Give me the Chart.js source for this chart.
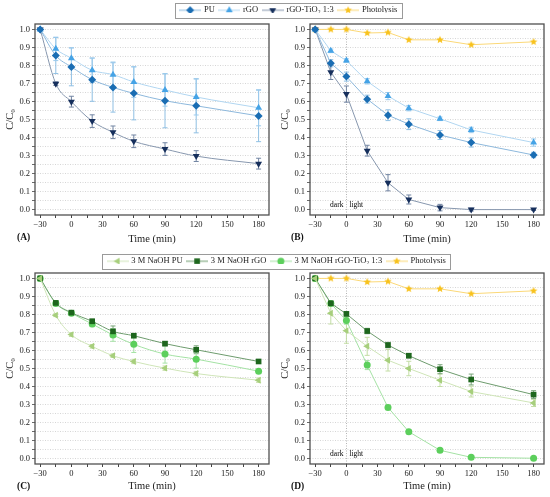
<!DOCTYPE html>
<html>
<head>
<meta charset="utf-8">
<script src="https://cdn.jsdelivr.net/npm/chart.js@4.4.1/dist/chart.umd.min.js"></script>
<style>
  body { margin: 0; background: #fff; width: 550px; height: 497px; position: relative; overflow: hidden; font-family: "Liberation Serif", serif; }
  canvas { position: absolute; }
  .lab { position: absolute; font-weight: bold; font-size: 9.5px; color: #111; }
</style>
</head>
<body>
<canvas id="chartA" width="275" height="250" style="left:0;top:0"></canvas>
<canvas id="chartB" width="275" height="250" style="left:275px;top:0"></canvas>
<canvas id="chartC" width="275" height="247" style="left:0;top:250px"></canvas>
<canvas id="chartD" width="275" height="247" style="left:275px;top:250px"></canvas>
<canvas id="legTop" width="420" height="24" style="left:79px;top:1px"></canvas>
<canvas id="legBottom" width="420" height="24" style="left:67px;top:252px"></canvas>
<div class="lab" style="left:17px;top:232px">(A)</div>
<div class="lab" style="left:291px;top:232px">(B)</div>
<div class="lab" style="left:17px;top:481px">(C)</div>
<div class="lab" style="left:291px;top:481px">(D)</div>
<script>
// sampling times (min)
const times = [-30, -15, 0, 20, 40, 60, 90, 120, 180];

const xTicks = [-30, -15, 0, 15, 30, 45, 60, 75, 90, 105, 120, 135, 150, 165, 180];
const xTickLabels = ['−30', '', '0', '', '30', '', '60', '', '90', '', '120', '', '150', '', '180'];
const yTicks = [0, 0.05, 0.1, 0.15, 0.2, 0.25, 0.3, 0.35, 0.4, 0.45, 0.5, 0.55, 0.6, 0.65, 0.7, 0.75, 0.8, 0.85, 0.9, 0.95, 1.0];
const yTickLabels = ['0.0', '', '0.1', '', '0.2', '', '0.3', '', '0.4', '', '0.5', '', '0.6', '', '0.7', '', '0.8', '', '0.9', '', '1.0'];

// (A)
const puA      = [1.0, 0.855, 0.792, 0.721, 0.678, 0.645, 0.604, 0.576, 0.520];
const puAErr   = [0, 0.10, 0.105, 0.12, 0.137, 0.147, 0.15, 0.15, 0.143];
const rgoA     = [1.0, 0.892, 0.840, 0.773, 0.749, 0.708, 0.664, 0.625, 0.565];
const rgoAErr  = [0, 0.065, 0.058, 0.068, 0.07, 0.085, 0.09, 0.10, 0.10];
const tioA     = [1.0, 0.699, 0.599, 0.491, 0.429, 0.379, 0.336, 0.297, 0.255];
const tioAErr  = [0, 0.01, 0.03, 0.035, 0.035, 0.035, 0.035, 0.03, 0.03];

// (B)
const photB    = [1.0, 1.0, 1.0, 0.980, 0.983, 0.942, 0.942, 0.915, 0.931];
const puB      = [1.0, 0.812, 0.738, 0.613, 0.524, 0.474, 0.414, 0.372, 0.303];
const puBErr   = [0, 0.02, 0.025, 0.022, 0.03, 0.03, 0.025, 0.025, 0.015];
const rgoB     = [1.0, 0.881, 0.827, 0.712, 0.630, 0.563, 0.504, 0.442, 0.372];
const rgoBErr  = [0, 0.01, 0.01, 0.015, 0.02, 0.015, 0.01, 0.015, 0.02];
const tioB     = [1.0, 0.762, 0.641, 0.327, 0.149, 0.056, 0.011, 0.0, 0.0];
const tioBErr  = [0, 0.04, 0.045, 0.03, 0.045, 0.025, 0.018, 0.008, 0.005];

// (C)
const naPuC     = [1.0, 0.796, 0.688, 0.623, 0.571, 0.539, 0.502, 0.472, 0.435];
const naPuCErr  = [0, 0.008, 0.01, 0.01, 0.01, 0.012, 0.012, 0.012, 0.012];
const naRgoC    = [1.0, 0.864, 0.810, 0.762, 0.706, 0.682, 0.638, 0.604, 0.539];
const naRgoCErr = [0, 0.01, 0.01, 0.012, 0.03, 0.01, 0.012, 0.022, 0.01];
const naTioC    = [1.0, 0.861, 0.807, 0.747, 0.686, 0.634, 0.580, 0.552, 0.485];
const naTioCErr = [0, 0.01, 0.01, 0.015, 0.035, 0.045, 0.05, 0.05, 0.012];

// (D)
const photD     = [1.0, 1.0, 1.0, 0.980, 0.983, 0.942, 0.942, 0.915, 0.931];
const naPuD     = [1.0, 0.807, 0.710, 0.623, 0.546, 0.500, 0.435, 0.372, 0.309];
const naPuDErr  = [0, 0.06, 0.07, 0.05, 0.06, 0.04, 0.035, 0.03, 0.02];
const naRgoD    = [1.0, 0.862, 0.803, 0.708, 0.630, 0.571, 0.496, 0.439, 0.355];
const naRgoDErr = [0, 0.01, 0.012, 0.015, 0.015, 0.012, 0.025, 0.03, 0.022];
const naTioD    = [1.0, 0.861, 0.766, 0.519, 0.284, 0.149, 0.046, 0.007, 0.002];
const naTioDErr = [0, 0.01, 0.02, 0.025, 0.012, 0.01, 0.008, 0.006, 0.004];

const FONT = '"Liberation Serif", serif';
Chart.defaults.font.family = FONT;
Chart.defaults.color = '#222';

function starImage(color, r) {
  const s = Math.ceil(r * 2 + 2);
  const c = document.createElement('canvas');
  c.width = s; c.height = s;
  const g = c.getContext('2d');
  g.fillStyle = color;
  g.beginPath();
  for (let k = 0; k < 10; k++) {
    const rr = k % 2 ? r * 0.45 : r;
    const a = -Math.PI / 2 + k * Math.PI / 5;
    g.lineTo(s / 2 + rr * Math.cos(a), s / 2 + rr * Math.sin(a));
  }
  g.closePath();
  g.fill();
  return c;
}

const ST = {
  pu:    { fill: '#1a6db3', line: '#8db8dc', err: '#8fbfe3', point: 'rectRot', r: 4 },
  rgo:   { fill: '#45a3e6', line: '#b1d6f1', err: '#9ccbed', point: 'triangle', r: 4 },
  tio:   { fill: '#162f5c', line: '#8797ae', err: '#7184a2', point: 'triangle', rot: 180, r: 4 },
  phot:  { fill: '#f8c21c', line: '#fbd877', err: '#f8c21c', point: starImage('#f8c21c', 4), r: 4 },
  naPu:  { fill: '#a7cf7c', line: '#cfe5b8', err: '#c3dda5', point: 'triangle', rot: -90, r: 4 },
  naRgo: { fill: '#1d661d', line: '#6e9c6e', err: '#7aa57a', point: 'rect', r: 4 },
  naTio: { fill: '#5ccf5c', line: '#a4e2a4', err: '#a4e2a4', point: 'circle', r: 3.5 }
};

function drawMarker(g, st, x, y) {
  if (st.point instanceof HTMLCanvasElement) {
    g.drawImage(st.point, x - st.point.width / 2, y - st.point.height / 2);
    return;
  }
  g.fillStyle = st.fill;
  if (Chart.helpers && Chart.helpers.drawPoint) {
    Chart.helpers.drawPoint(g, { pointStyle: st.point, rotation: st.rot || 0, radius: st.r, borderWidth: 0 }, x, y);
  } else {
    g.beginPath(); g.arc(x, y, st.r, 0, Math.PI * 2); g.fill();
  }
}

function sample(st) {
  const c = document.createElement('canvas');
  c.width = 22; c.height = 12;
  const g = c.getContext('2d');
  g.strokeStyle = st.line; g.lineWidth = 1;
  g.beginPath(); g.moveTo(0, 6); g.lineTo(22, 6); g.stroke();
  drawMarker(g, st, 11, 6);
  return c;
}

function ds(label, data, err, st, smooth) {
  return {
    label: label,
    data: times.map((t, i) => ({ x: t, y: data[i] })),
    errors: err, errColor: st.err,
    borderColor: st.line, backgroundColor: st.fill,
    pointBackgroundColor: st.fill, pointBorderColor: st.fill, pointBorderWidth: 0,
    pointStyle: st.point, pointRotation: st.rot || 0, pointRadius: st.r,
    borderWidth: 1,
    cubicInterpolationMode: smooth ? 'monotone' : 'default',
    tension: 0
  };
}

const errorBars = {
  id: 'errorBars',
  beforeDatasetsDraw(chart) {
    const g = chart.ctx, ys = chart.scales.y;
    chart.data.datasets.forEach((d, di) => {
      if (!d.errors) return;
      const meta = chart.getDatasetMeta(di);
      g.save();
      g.strokeStyle = d.errColor; g.lineWidth = 1;
      meta.data.forEach((pt, i) => {
        const e = d.errors[i];
        if (!e) return;
        const v = d.data[i].y;
        const yt = ys.getPixelForValue(v + e), yb = ys.getPixelForValue(v - e);
        g.beginPath();
        g.moveTo(pt.x, yt); g.lineTo(pt.x, yb);
        g.moveTo(pt.x - 2.5, yt); g.lineTo(pt.x + 2.5, yt);
        g.moveTo(pt.x - 2.5, yb); g.lineTo(pt.x + 2.5, yb);
        g.stroke();
      });
      g.restore();
    });
  }
};

const frame = {
  id: 'frame',
  afterDraw(chart) {
    const a = chart.chartArea, g = chart.ctx;
    g.save();
    g.strokeStyle = '#505050'; g.lineWidth = 1.3;
    g.strokeRect(a.left, a.top, a.right - a.left, a.bottom - a.top);
    g.restore();
  }
};

const darkLight = {
  id: 'darkLight',
  afterDatasetsDraw(chart, args, opts) {
    if (!opts.show) return;
    const g = chart.ctx;
    const x0 = chart.scales.x.getPixelForValue(0), y = chart.scales.y.getPixelForValue(0.025);
    g.save();
    g.font = '7.5px ' + FONT; g.fillStyle = '#000'; g.textBaseline = 'middle';
    g.textAlign = 'right'; g.fillText('dark', x0 - 3, y);
    g.textAlign = 'left'; g.fillText('light', x0 + 3, y);
    g.restore();
  }
};

function panel(id, datasets, vline, xHeight, padTop) {
  new Chart(document.getElementById(id), {
    type: 'line',
    data: { datasets: datasets },
    options: {
      responsive: false, animation: false, events: [],
      layout: { padding: { top: padTop, right: 6, left: 0, bottom: 0 } },
      scales: {
        x: {
          type: 'linear', min: -35, max: 190,
          afterBuildTicks: s => { s.ticks = xTicks.map(v => ({ value: v })); },
          afterFit: s => { s.height = xHeight; },
          ticks: { autoSkip: false, maxRotation: 0, padding: 2, color: '#222', font: { size: 8.5 },
                   callback: (v, i) => xTickLabels[i] },
          grid: { drawOnChartArea: vline, color: c => (c.tick && c.tick.value === 0) ? '#b5b5b5' : 'rgba(0,0,0,0)',
                  tickColor: '#444', tickLength: 3, lineWidth: 1 },
          border: { display: false, dash: [1, 1.5] },
          title: { display: true, text: 'Time (min)', color: '#222', font: { size: 10.5 }, padding: { top: 1, bottom: 4 } }
        },
        y: {
          min: -0.03, max: 1.03,
          afterBuildTicks: s => { s.ticks = yTicks.map(v => ({ value: v })); },
          afterFit: s => { s.width = 35; },
          ticks: { autoSkip: false, padding: 2, color: '#222', font: { size: 8.5 },
                   callback: (v, i) => yTickLabels[i] },
          grid: { color: '#cccccc', tickColor: '#444', tickLength: 3, lineWidth: 0.8 },
          border: { display: false, dash: [1, 1.5] },
          title: { display: true, text: 'C/C₀', color: '#222', font: { size: 10.5 }, padding: { top: 4, bottom: 0 } }
        }
      },
      plugins: { legend: { display: false }, tooltip: { enabled: false }, darkLight: { show: vline } }
    },
    plugins: [errorBars, frame, darkLight]
  });
}

const legendFrame = {
  id: 'legendFrame',
  afterDraw(chart) {
    const hb = chart.legend.legendHitBoxes;
    if (!hb || !hb.length) return;
    const left = Math.min(...hb.map(h => h.left)) - 6;
    const right = Math.max(...hb.map(h => h.left + h.width)) + 4;
    const top = Math.min(...hb.map(h => h.top)) - 3;
    const bottom = Math.max(...hb.map(h => h.top + h.height)) + 3;
    const g = chart.ctx;
    g.save();
    g.strokeStyle = '#9a9a9a'; g.lineWidth = 1;
    g.strokeRect(Math.round(left) + 0.5, Math.round(top) + 0.5, Math.round(right - left), Math.round(bottom - top));
    g.restore();
  }
};

function legendChart(id, items) {
  new Chart(document.getElementById(id), {
    type: 'line',
    data: { datasets: items.map(it => ({ label: it.label, data: [] })) },
    options: {
      responsive: false, animation: false, events: [],
      scales: { x: { display: false }, y: { display: false } },
      plugins: {
        tooltip: { enabled: false },
        legend: {
          position: 'top',
          labels: {
            usePointStyle: true, pointStyleWidth: 19, padding: 5, color: '#222', font: { size: 8.5 },
            generateLabels: () => items.map((it, i) => ({
              text: it.label, pointStyle: sample(it.st), fillStyle: 'rgba(0,0,0,0)',
              strokeStyle: 'rgba(0,0,0,0)', lineWidth: 0, fontColor: '#222', datasetIndex: i
            }))
          }
        }
      }
    },
    plugins: [legendFrame]
  });
}

legendChart('legTop', [
  { label: 'PU', st: ST.pu },
  { label: 'rGO', st: ST.rgo },
  { label: 'rGO-TiO₂ 1:3', st: ST.tio },
  { label: 'Photolysis', st: ST.phot }
]);
legendChart('legBottom', [
  { label: '3 M NaOH PU', st: ST.naPu },
  { label: '3 M NaOH rGO', st: ST.naRgo },
  { label: '3 M NaOH rGO-TiO₂ 1:3', st: ST.naTio },
  { label: 'Photolysis', st: ST.phot }
]);

panel('chartA', [
  ds('PU', puA, puAErr, ST.pu, true),
  ds('rGO', rgoA, rgoAErr, ST.rgo, true),
  ds('rGO-TiO₂ 1:3', tioA, tioAErr, ST.tio, true)
], false, 35, 24);

panel('chartB', [
  ds('PU', puB, puBErr, ST.pu, false),
  ds('rGO', rgoB, rgoBErr, ST.rgo, false),
  ds('rGO-TiO₂ 1:3', tioB, tioBErr, ST.tio, false),
  ds('Photolysis', photB, null, ST.phot, false)
], true, 35, 24);

panel('chartC', [
  ds('3 M NaOH PU', naPuC, naPuCErr, ST.naPu, true),
  ds('3 M NaOH rGO', naRgoC, naRgoCErr, ST.naRgo, true),
  ds('3 M NaOH rGO-TiO₂ 1:3', naTioC, naTioCErr, ST.naTio, true)
], false, 33, 23);

panel('chartD', [
  ds('3 M NaOH PU', naPuD, naPuDErr, ST.naPu, false),
  ds('3 M NaOH rGO', naRgoD, naRgoDErr, ST.naRgo, false),
  ds('3 M NaOH rGO-TiO₂ 1:3', naTioD, naTioDErr, ST.naTio, false),
  ds('Photolysis', photD, null, ST.phot, false)
], true, 33, 23);
</script>
</body>
</html>
